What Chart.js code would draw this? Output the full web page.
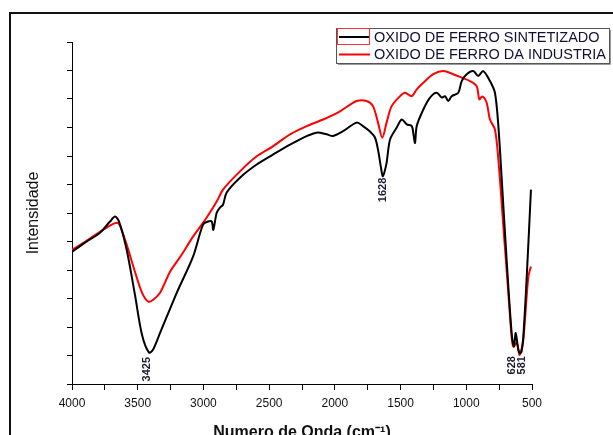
<!DOCTYPE html>
<html><head><meta charset="utf-8">
<script src="https://cdn.jsdelivr.net/npm/chart.js@4"></script>
<style>
html,body{margin:0;padding:0;background:#fff;overflow:hidden;}
#wrap{position:relative;width:613px;height:445px;}
#frame{position:absolute;left:9px;top:12px;right:-10px;bottom:-20px;border-top:2px solid #111;border-left:2px solid #111;pointer-events:none;}
canvas{position:absolute;left:0;top:0;}
</style></head><body>
<div id="wrap"><canvas id="c" width="613" height="445"></canvas><div id="frame"></div></div>
<script>
// ---- data ----
const seriesLabels = ['OXIDO DE FERRO SINTETIZADO', 'OXIDO DE FERRO DA INDUSTRIA'];
const seriesColors = ['#000000', '#ff0000'];

const wnSint = [4000,3901,3787,3711,3673,3642,3584,3521,3467,3414,3384,3330,3203,3079,3003,2965,2937,2925,2899,2874,2851,2823,2722,2595,2471,2341,2214,2138,2062,2014,1938,1834,1786,1733,1695,1672,1649,1636,1622,1606,1580,1529,1491,1453,1415,1402,1390,1377,1327,1276,1225,1187,1162,1137,1111,1061,1035,997,947,909,871,820,782,756,731,693,655,637,624,604,591,580,566,540,508];
const intSint = [4.64,4.96,5.31,5.70,5.88,5.70,4.71,3.13,1.72,1.10,1.20,1.79,3.20,4.47,5.59,5.70,5.70,5.41,6.01,6.19,6.29,6.72,7.24,7.70,8.05,8.40,8.70,8.82,8.76,8.70,8.87,9.17,9.05,8.86,8.65,8.23,7.59,7.29,7.45,7.77,8.58,9.00,9.28,9.11,9.05,8.76,8.46,9.05,9.63,10.05,10.22,10.05,10.10,9.93,10.10,10.22,10.63,10.87,10.98,10.81,10.98,10.63,10.22,9.05,7.24,4.36,1.79,1.31,1.79,1.20,1.08,1.13,1.66,3.77,6.82];

const wnInd = [4000,3901,3787,3711,3658,3635,3584,3521,3467,3419,3384,3330,3254,3171,3079,2975,2899,2851,2722,2595,2471,2341,2214,2090,1961,1834,1758,1710,1672,1639,1606,1568,1504,1466,1415,1377,1327,1251,1175,1099,1035,972,921,901,878,845,820,782,756,718,680,655,642,616,596,584,566,528,508];
const intInd = [4.71,4.99,5.34,5.56,5.66,5.56,4.89,3.94,3.20,2.89,2.95,3.20,3.94,4.50,5.17,5.84,6.40,6.82,7.46,7.99,8.34,8.76,9.05,9.28,9.57,9.93,9.93,9.75,9.18,8.64,9.18,9.75,10.10,10.22,10.10,10.34,10.57,10.87,10.98,10.87,10.75,10.63,10.45,9.99,10.09,9.87,9.28,8.93,7.88,5.53,3.19,1.66,1.31,1.44,1.02,1.13,1.55,3.77,4.12];

const xTickLabels = ['4000','3500','3000','2500','2000','1500','1000','500'];
const peakLabels = ['3425', '1628', '628', '581'];
const peakLabelWn = [3429, 1636, 654, 578];
const peakLabelInt = [0.95, 7.24, 0.98, 0.98];

// ---- build chart ----
const toPts = (xs, ys) => xs.map((x, i) => ({x: x, y: ys[i]}));
const FONT = '"Liberation Sans", Arial, sans-serif';

const legendPlugin = {
  id: 'boxLegend',
  afterDraw(chart) {
    const ctx = chart.ctx;
    ctx.save();
    const bx = 336, by = 28, bw = 273, bh = 35;
    ctx.fillStyle = '#fff';
    ctx.fillRect(bx, by, bw, bh);
    ctx.strokeStyle = '#9a9a9a';
    ctx.lineWidth = 1;
    ctx.beginPath();
    ctx.moveTo(bx + bw + 1.5, by + 2); ctx.lineTo(bx + bw + 1.5, by + bh + 1.5); ctx.lineTo(bx + 2, by + bh + 1.5);
    ctx.stroke();
    ctx.strokeStyle = '#555';
    ctx.strokeRect(bx + 0.5, by + 0.5, bw, bh);
    chart.data.datasets.forEach((ds, i) => {
      const y = by + 9 + i * 17.5;
      ctx.strokeStyle = ds.borderColor;
      ctx.lineWidth = 2;
      ctx.beginPath(); ctx.moveTo(339, y); ctx.lineTo(370, y); ctx.stroke();
      ctx.fillStyle = '#111133';
      ctx.font = '14.5px ' + FONT;
      ctx.textBaseline = 'middle';
      ctx.textAlign = 'left';
      ctx.fillText(ds.label, 374, y + 0.5);
    });
    ctx.strokeStyle = '#ff3030';
    ctx.lineWidth = 1;
    ctx.strokeRect(337.5, 28.5, 32, 16);
    ctx.restore();
  }
};

const peakPlugin = {
  id: 'peakLabels',
  afterDatasetsDraw(chart) {
    const ctx = chart.ctx, xs = chart.scales.x, ys = chart.scales.y;
    ctx.save();
    ctx.fillStyle = '#1a1a2e';
    ctx.font = 'bold 11px ' + FONT;
    ctx.textAlign = 'right';
    ctx.textBaseline = 'middle';
    peakLabels.forEach((t, i) => {
      const px = xs.getPixelForValue(peakLabelWn[i]);
      const py = ys.getPixelForValue(peakLabelInt[i]);
      ctx.save();
      ctx.translate(px, py);
      ctx.rotate(-Math.PI / 2);
      ctx.fillText(t, 0, 0);
      ctx.restore();
    });
    ctx.restore();
  }
};

new Chart(document.getElementById('c'), {
  type: 'line',
  data: {
    datasets: [
      {label: seriesLabels[0], data: toPts(wnSint, intSint), borderColor: seriesColors[0], borderWidth: 2, pointRadius: 0, tension: 0.3, fill: false},
      {label: seriesLabels[1], data: toPts(wnInd, intInd), borderColor: seriesColors[1], borderWidth: 2, pointRadius: 0, tension: 0.3, fill: false}
    ]
  },
  options: {
    responsive: false,
    animation: false,
    devicePixelRatio: 1,
    layout: {padding: {top: 42, right: 81, left: 0, bottom: 0}},
    plugins: {legend: {display: false}, tooltip: {enabled: false}},
    scales: {
      x: {
        type: 'linear', reverse: true, min: 500, max: 4000,
        afterFit: s => { s.height = 61; },
        border: {display: true, color: '#000', width: 1},
        grid: {drawOnChartArea: false, drawTicks: true, tickLength: 6, color: '#000'},
        ticks: {
          stepSize: 250, autoSkip: false, maxRotation: 0, padding: 6,
          color: '#111', font: {family: FONT, size: 12},
          callback: v => (v % 500 === 0 ? xTickLabels[(4000 - v) / 500] : '')
        },
        title: {display: true, text: 'Numero de Onda (cm\u207B\u00B9)', color: '#111', font: {family: FONT, size: 16, weight: 'bold'}, padding: {top: 0, bottom: 3}}
      },
      y: {
        type: 'linear', min: 0, max: 12,
        afterFit: s => { s.width = 72; },
        border: {display: true, color: '#000', width: 1},
        grid: {drawOnChartArea: false, drawTicks: true, tickLength: 5, color: '#000'},
        ticks: {stepSize: 1, padding: 0, callback: () => ''},
        title: {display: true, text: 'Intensidade', color: '#111', font: {family: FONT, size: 16}, padding: {top: 24, bottom: 0}}
      }
    }
  },
  plugins: [peakPlugin, legendPlugin]
});
</script>
</body></html>
